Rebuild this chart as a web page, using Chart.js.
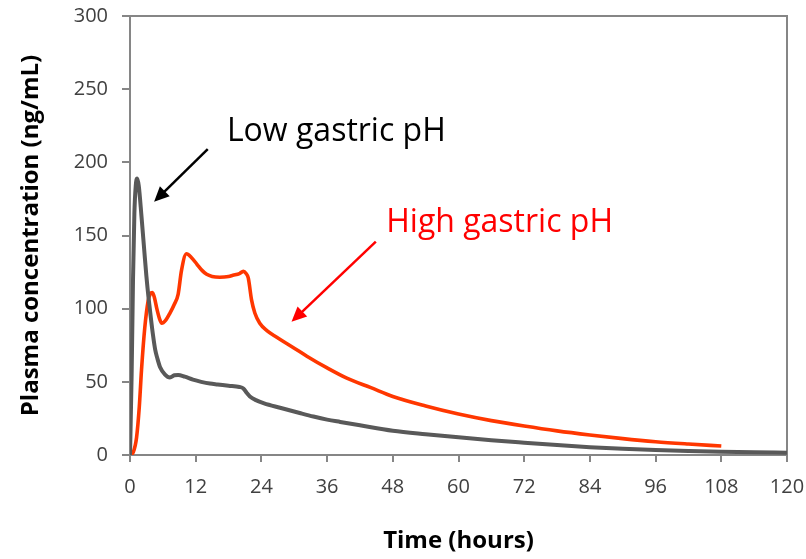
<!DOCTYPE html>
<html lang="en">
  <head>
    <meta charset="UTF-8" />
    <title>Plasma concentration</title>
    <style>
      body { margin: 0; background: #fff; }
      .wrap { width: 806px; height: 559px; position: relative; }
    </style>
  </head>
  <body>
    <div class="wrap">
      <canvas id="myChart"></canvas>
    </div>
    <script src="https://cdn.jsdelivr.net/npm/chart.js@4.4.1/dist/chart.umd.min.js"></script>
    <script>
      // time (hours) and concentration (ng/mL) for each curve
      const lowPhTime = [
        0, 0.3, 0.55, 0.8, 1.05, 1.3, 1.6, 2.1, 2.6, 3.0, 3.4, 3.8, 4.2, 4.6, 5.0,
        5.5, 6.4, 7.3, 8.1, 8.8, 10, 11.5, 13, 14.6, 16, 18, 20, 20.7, 21.3, 21.9,
        23, 24.5, 27.4, 31, 33.5, 36, 38.4, 42, 48, 54, 60, 66, 72, 78, 84, 90,
        96, 102, 108, 114, 120,
      ];
      const lowPhConc = [
        0, 55, 120, 165, 184, 189, 184, 163, 140, 122, 107, 94, 82, 72, 66,
        60, 55, 53, 54.5, 54.7, 53.5, 51.5, 50, 48.8, 48.2, 47.4, 46.5, 45.5, 42.5, 40,
        37.5, 35.3, 32.3, 28.7, 26.3, 24.2, 22.6, 20.3, 16.6, 14.2, 12.1, 10.1, 8.4, 6.8, 5.3, 4.2,
        3.4, 2.8, 2.3, 1.9, 1.6,
      ];
      const highPhTime = [
        0, 0.6, 1.2, 1.7, 2.1, 2.7, 3.3, 3.7, 4.1, 4.5, 4.9, 5.4, 5.8, 6.5, 7.3,
        8.1, 8.8, 9.4, 10.3, 11.2, 12.2, 13.2, 14, 15, 16.4, 18, 18.8, 20, 20.7,
        21.2, 21.6, 22.2, 22.8, 23.7, 25, 26.8, 30, 32.3, 36, 39.6, 44, 48, 54,
        60, 66, 72, 78, 84, 90, 96, 102, 108,
      ];
      const highPhConc = [
        0, 2, 12, 33, 58, 87, 105, 110, 111, 107, 100, 93, 90, 92, 97,
        103, 110, 126, 137.5, 135, 130.5, 126, 123.5, 122, 121.5, 122, 122.8, 124, 125.5,
        124, 121, 106, 97, 90, 85, 80.5, 73, 67.5, 59.5, 52.5, 46, 40, 33.5,
        28, 23.5, 19.8, 16.5, 13.7, 11.2, 9.1, 7.5, 6.1,
      ];
      const xTicks = [0, 12, 24, 36, 48, 60, 72, 84, 96, 108, 120];
      const yTicks = [0, 50, 100, 150, 200, 250, 300];

      const AXIS_GREY = "rgb(134, 134, 134)";
      const TEXT_GREY = "#404040";
      const FONT = "'Open Sans', 'DejaVu Sans', sans-serif";

      const toPoints = (xs, ys) => xs.map((x, i) => ({ x: x, y: ys[i] }));

      // frame round the plot area plus the two labelled arrows
      const decorations = {
        id: "decorations",
        beforeDatasetsDraw(chart) {
          const { ctx, chartArea: a } = chart;
          ctx.save();
          ctx.strokeStyle = AXIS_GREY;
          ctx.lineWidth = 2;
          ctx.beginPath();
          ctx.moveTo(a.left, a.top);
          ctx.lineTo(a.right, a.top);
          ctx.lineTo(a.right, a.bottom);
          ctx.stroke();
          ctx.restore();
        },
        afterDraw(chart, args, opts) {
          const { ctx, scales } = chart;
          const px = (t) => scales.x.getPixelForValue(t);
          const py = (v) => scales.y.getPixelForValue(v);
          ctx.save();
          opts.notes.forEach((n) => {
            ctx.font = "32px " + FONT;
            ctx.fillStyle = n.color;
            ctx.textAlign = "left";
            ctx.textBaseline = "alphabetic";
            ctx.fillText(n.text, px(n.at[0]), py(n.at[1]));

            const x0 = px(n.from[0]), y0 = py(n.from[1]);
            const x1 = px(n.to[0]), y1 = py(n.to[1]);
            const ang = Math.atan2(y1 - y0, x1 - x0);
            const head = 15, half = 7;
            ctx.strokeStyle = n.color;
            ctx.lineWidth = 2.5;
            ctx.beginPath();
            ctx.moveTo(x0, y0);
            ctx.lineTo(x1 - Math.cos(ang) * head * 0.8, y1 - Math.sin(ang) * head * 0.8);
            ctx.stroke();
            ctx.beginPath();
            ctx.moveTo(x1, y1);
            ctx.lineTo(
              x1 - Math.cos(ang) * head + Math.sin(ang) * half,
              y1 - Math.sin(ang) * head - Math.cos(ang) * half
            );
            ctx.lineTo(
              x1 - Math.cos(ang) * head - Math.sin(ang) * half,
              y1 - Math.sin(ang) * head + Math.cos(ang) * half
            );
            ctx.closePath();
            ctx.fillStyle = n.color;
            ctx.fill();
          });
          ctx.restore();
        },
      };

      const ctx = document.getElementById("myChart");
      const myChart = new Chart(ctx, {
        type: "line",
        data: {
          datasets: [
            {
              label: "Low gastric pH",
              data: toPoints(lowPhTime, lowPhConc),
              borderColor: "rgb(89, 89, 89)",
              borderWidth: 4,
              pointRadius: 0,
              cubicInterpolationMode: "monotone",
            },
            {
              label: "High gastric pH",
              data: toPoints(highPhTime, highPhConc),
              borderColor: "rgb(255, 55, 0)",
              borderWidth: 3.6,
              pointRadius: 0,
              cubicInterpolationMode: "monotone",
            },
          ],
        },
        options: {
          responsive: true,
          maintainAspectRatio: false,
          animation: false,
          layout: { padding: { top: 16, right: 19, left: 0, bottom: 0 } },
          plugins: {
            legend: { display: false },
            tooltip: { enabled: false },
            decorations: {
              notes: [
                { text: "Low gastric pH", color: "#000", at: [17.7, 214.5], from: [14.2, 209], to: [4.4, 173] },
                { text: "High gastric pH", color: "#ff0000", at: [46.8, 152.3], from: [44.9, 145.8], to: [29.5, 91] },
              ],
            },
          },
          scales: {
            x: {
              type: "linear",
              min: 0,
              max: 120,
              afterFit: (s) => {
                s.height = 104;
                s.paddingLeft = 0;
                s.paddingRight = 0;
              },
              afterBuildTicks: (s) => { s.ticks = xTicks.map((v) => ({ value: v })); },
              grid: { drawOnChartArea: false, tickLength: 7, color: AXIS_GREY, lineWidth: 2 },
              border: { color: AXIS_GREY, width: 2 },
              ticks: { color: TEXT_GREY, font: { family: FONT, size: 20 }, padding: 13, maxRotation: 0 },
              title: {
                display: true,
                text: "Time (hours)",
                color: "#000",
                font: { family: FONT, size: 24, weight: "bold" },
                padding: { top: 0, bottom: 3 },
              },
            },
            y: {
              min: 0,
              max: 300,
              afterFit: (s) => {
                s.width = 130;
                s.paddingTop = 0;
                s.paddingBottom = 0;
              },
              afterBuildTicks: (s) => { s.ticks = yTicks.map((v) => ({ value: v })); },
              grid: { drawOnChartArea: false, tickLength: 8, color: AXIS_GREY, lineWidth: 2 },
              border: { color: AXIS_GREY, width: 2 },
              ticks: { color: TEXT_GREY, font: { family: FONT, size: 20 }, padding: 14 },
              title: {
                display: true,
                text: "Plasma concentration (ng/mL)",
                color: "#000",
                font: { family: FONT, size: 24, weight: "bold" },
                padding: { top: 17, bottom: 0 },
              },
            },
          },
        },
        plugins: [decorations],
      });
    </script>
  </body>
</html>
